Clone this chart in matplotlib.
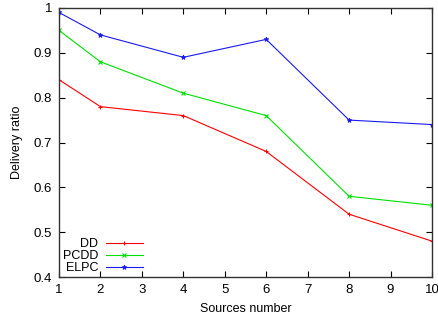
import matplotlib
matplotlib.use("Agg")
import matplotlib.pyplot as plt

plt.rcParams['font.family'] = ['Liberation Sans', 'DejaVu Sans']

# Data
sources = [1, 2, 4, 6, 8, 10]
dd = [0.84, 0.78, 0.76, 0.68, 0.54, 0.48]
pcdd = [0.95, 0.88, 0.81, 0.76, 0.58, 0.56]
elpc = [0.99, 0.94, 0.89, 0.93, 0.75, 0.74]

fig = plt.figure(figsize=(4.39, 3.15), dpi=100)
ax = fig.add_axes([59 / 439, 1 - 277 / 315, (432 - 59) / 439, (277 - 8) / 315])

ax.plot(sources, dd, color='#ff0000', lw=0.8, marker='+', ms=3.5, mew=0.8, label='DD')
ax.plot(sources, pcdd, color='#00e000', lw=0.8, marker='x', ms=3, mew=0.8, label='PCDD')
ax.plot(sources, elpc, color='#1a1aee', lw=0.8, marker='*', ms=3.5, mew=0.6, label='ELPC')

ax.set_xlim(1, 10)
ax.set_ylim(0.4, 1.0)
ax.set_xticks(range(1, 11))
ax.set_yticks([0.4, 0.5, 0.6, 0.7, 0.8, 0.9, 1.0])
ax.set_yticklabels(['0.4', '0.5', '0.6', '0.7', '0.8', '0.9', '1'])
ax.tick_params(direction='in', top=True, right=True, labelsize=9.5, length=4, width=0.8, pad=5)
for s in ax.spines.values():
    s.set_linewidth(1.0)
    s.set_color('#333333')

ax.set_xlabel('Sources number', fontsize=9, labelpad=5)
ax.set_ylabel('Delivery ratio', fontsize=9, labelpad=8)

leg = ax.legend(loc='lower left', markerfirst=False, frameon=False, fontsize=9,
                handlelength=3.0, handletextpad=0.6, labelspacing=0.0,
                borderaxespad=0.0, borderpad=0.0, bbox_to_anchor=(0.01, 0.01))
for t in leg.get_texts():
    t.set_ha('right')

fig.savefig('out.png', dpi=100)
